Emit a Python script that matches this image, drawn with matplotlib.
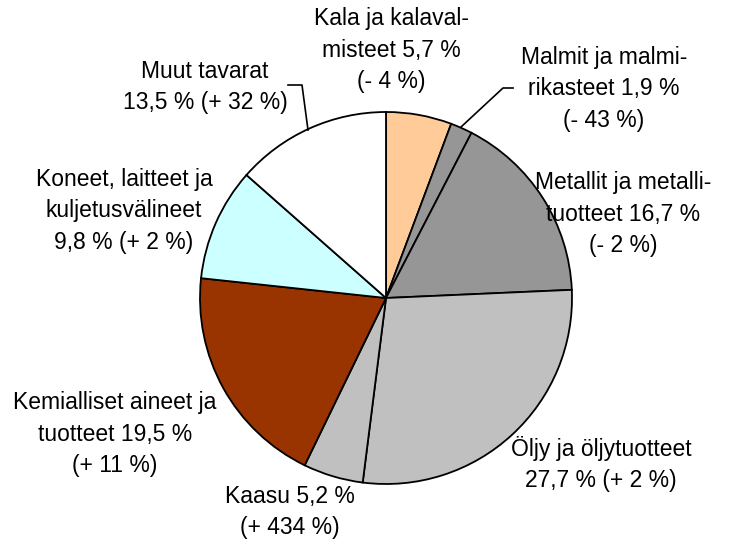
import matplotlib
matplotlib.use("Agg")
import matplotlib.pyplot as plt

plt.rcParams['font.family'] = ['Liberation Sans', 'DejaVu Sans']

# osuudet (%), myötäpäivään klo 12:sta alkaen
categories = ["Kala", "Malmit", "Metallit", "Öljy", "Kaasu", "Kemialliset", "Koneet", "Muut"]
shares = [5.7, 1.9, 16.7, 27.7, 5.2, 19.5, 9.8, 13.5]
colors = ["#FFCC99", "#969696", "#969696", "#C0C0C0", "#C0C0C0", "#993300", "#CCFFFF", "#FFFFFF"]
labels = [
    "Kala ja kalaval-\nmisteet 5,7 %\n(- 4 %)",
    "Malmit ja malmi-\nrikasteet 1,9 %\n(- 43 %)",
    "Metallit ja metalli-\ntuotteet 16,7 %\n(- 2 %)",
    "Öljy ja öljytuotteet\n27,7 % (+ 2 %)",
    "Kaasu 5,2 %\n(+ 434 %)",
    "Kemialliset aineet ja\ntuotteet 19,5 %\n(+ 11 %)",
    "Koneet, laitteet ja\nkuljetusvälineet\n9,8 % (+ 2 %)",
    "Muut tavarat\n13,5 % (+ 32 %)",
]
# label centres in pixels (x, y from top)
label_pos = [(391, 50), (604, 89), (623, 214), (601, 464), (290, 512),
             (115, 434), (124, 211), (205, 87)]

W, H = 740, 543
fig = plt.figure(figsize=(W / 100, H / 100), dpi=100)
ax = fig.add_axes([0, 0, 1, 1])

cx, cy, r = 386, H - 298, 186
ax.pie(shares, colors=colors, startangle=90, counterclock=False,
       center=(cx, cy), radius=r, frame=True,
       wedgeprops=dict(edgecolor="black", linewidth=1.3))

for txt, (x, y) in zip(labels, label_pos):
    ax.text(x, H - y, txt, ha="center", va="center", multialignment="center",
            fontsize=16.5, linespacing=1.45)

# leader lines
ax.plot([461, 503, 513], [H - 127, H - 88, H - 88], color="black", lw=1.2)
ax.plot([288, 302, 308], [H - 85, H - 85, H - 130], color="black", lw=1.2)

ax.set_xlim(0, W)
ax.set_ylim(0, H)
ax.set_aspect("equal")
ax.axis("off")

fig.savefig("out.png", dpi=100)
